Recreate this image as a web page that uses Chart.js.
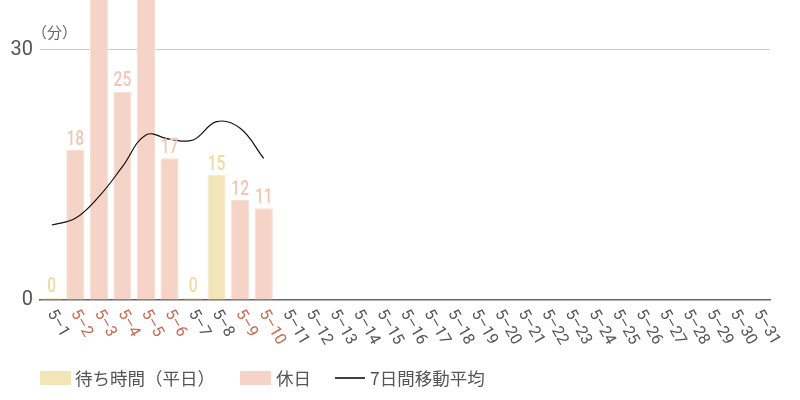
<!DOCTYPE html>
<html>
<head>
<meta charset="utf-8">
<script src="https://cdn.jsdelivr.net/npm/chart.js@4.4.1/dist/chart.umd.min.js"></script>
<style>
  html, body { margin: 0; padding: 0; background: #fff; }
  #wrap { width: 800px; height: 400px; }
</style>
</head>
<body>
<div id="wrap"><canvas id="waitChart" width="800" height="400"></canvas></div>
<script>
// 日付ラベル
const days = ['5-1','5-2','5-3','5-4','5-5','5-6','5-7','5-8','5-9','5-10',
  '5-11','5-12','5-13','5-14','5-15','5-16','5-17','5-18','5-19','5-20',
  '5-21','5-22','5-23','5-24','5-25','5-26','5-27','5-28','5-29','5-30','5-31'];

// 休日 (ラベルを赤で表示)
const holidays = ['5-2','5-3','5-4','5-5','5-6','5-9','5-10'];

// 待ち時間 (平日)
const weekdayWait = [0, null, null, null, null, null, 0, 15, null, null,
  null, null, null, null, null, null, null, null, null, null,
  null, null, null, null, null, null, null, null, null, null, null];

// 待ち時間 (休日)
const holidayWait = [null, 18, 37, 25, 38, 17, null, null, 12, 11,
  null, null, null, null, null, null, null, null, null, null,
  null, null, null, null, null, null, null, null, null, null, null];

// 7日間移動平均
const movingAvg = [9.0, 9.8, 12.4, 16.0, 19.8, 19.3, 19.2, 21.4, 20.6, 17.0,
  null, null, null, null, null, null, null, null, null, null,
  null, null, null, null, null, null, null, null, null, null, null];

const yTicks = [0, 30];

const COLOR_WEEKDAY = '#f2e6b9';
const COLOR_WEEKDAY_LABEL = '#eedc9f';
const COLOR_HOLIDAY = '#f5d3c6';
const COLOR_HOLIDAY_LABEL = '#f2c6b3';
const COLOR_TEXT = '#555';
const COLOR_RED = '#c8694e';

// --- バーの上の数値 ---
const valueLabels = {
  id: 'valueLabels',
  afterDatasetsDraw(chart) {
    const ctx = chart.ctx;
    const area = chart.chartArea;
    [0, 1].forEach(di => {
      const meta = chart.getDatasetMeta(di);
      const color = di === 0 ? COLOR_WEEKDAY_LABEL : COLOR_HOLIDAY_LABEL;
      meta.data.forEach((bar, i) => {
        const v = chart.data.datasets[di].data[i];
        if (v === null || v === undefined) return;
        const top = Math.min(bar.y, bar.base - 2);
        if (top - 20 < area.top) return;
        ctx.save();
        ctx.translate(bar.x, top - 2);
        ctx.scale(0.74, 1);
        ctx.font = '500 21px Roboto';
        ctx.fillStyle = color;
        ctx.textAlign = 'center';
        ctx.textBaseline = 'bottom';
        ctx.fillText(String(v), 0, 2);
        ctx.restore();
      });
    });
  }
};

// --- X軸ラベル、単位、凡例 ---
const extras = {
  id: 'extras',
  afterDraw(chart) {
    const ctx = chart.ctx;
    const x = chart.scales.x;
    const area = chart.chartArea;

    // 斜めの日付ラベル
    ctx.save();
    ctx.font = '16px Roboto';
    ctx.textAlign = 'left';
    ctx.textBaseline = 'middle';
    days.forEach((d, i) => {
      const px = x.getPixelForTick(i);
      ctx.save();
      ctx.translate(px - 1, area.bottom + 11);
      ctx.rotate(60 * Math.PI / 180);
      ctx.fillStyle = holidays.includes(d) ? COLOR_RED : COLOR_TEXT;
      ctx.fillText(d.replace('-', '–'), 0, 0);
      ctx.restore();
    });
    ctx.restore();

    // 単位
    ctx.save();
    ctx.font = '15px "Noto Sans CJK JP"';
    ctx.fillStyle = '#666';
    ctx.textAlign = 'left';
    ctx.textBaseline = 'middle';
    ctx.fillText('（分）', 32, 32);
    ctx.restore();

    // 凡例
    ctx.save();
    ctx.font = '17.5px "Noto Sans CJK JP"';
    ctx.textBaseline = 'middle';
    ctx.textAlign = 'left';
    const ly = 378;
    ctx.fillStyle = COLOR_WEEKDAY;
    ctx.fillRect(40, 371, 31, 14);
    ctx.fillStyle = COLOR_TEXT;
    ctx.fillText('待ち時間（平日）', 75, ly);
    ctx.fillStyle = COLOR_HOLIDAY;
    ctx.fillRect(240, 371, 31, 14);
    ctx.fillStyle = COLOR_TEXT;
    ctx.fillText('休日', 276, ly);
    ctx.strokeStyle = '#000';
    ctx.lineWidth = 1.5;
    ctx.beginPath();
    ctx.moveTo(335, ly);
    ctx.lineTo(365, ly);
    ctx.stroke();
    ctx.fillText('7日間移動平均', 370, ly);
    ctx.restore();
  }
};

const ctx = document.getElementById('waitChart').getContext('2d');
new Chart(ctx, {
  type: 'bar',
  data: {
    labels: days,
    datasets: [
      {
        label: '待ち時間（平日）',
        data: weekdayWait,
        backgroundColor: COLOR_WEEKDAY,
        borderColor: '#f6eccb',
        borderWidth: 1,
        minBarLength: 2,
        grouped: false,
        categoryPercentage: 1,
        barPercentage: 0.77,
        order: 2
      },
      {
        label: '休日',
        data: holidayWait,
        backgroundColor: COLOR_HOLIDAY,
        borderColor: '#f8ddd2',
        borderWidth: 1,
        minBarLength: 2,
        grouped: false,
        categoryPercentage: 1,
        barPercentage: 0.77,
        order: 2
      },
      {
        type: 'line',
        label: '7日間移動平均',
        data: movingAvg,
        borderColor: '#111',
        borderWidth: 1.2,
        pointRadius: 0,
        tension: 0.4,
        fill: false,
        order: 1
      }
    ]
  },
  options: {
    responsive: false,
    animation: false,
    layout: { padding: { top: 0, right: 30, left: 0, bottom: 0 } },
    plugins: {
      legend: { display: false },
      tooltip: { enabled: false }
    },
    scales: {
      x: {
        grid: { display: false },
        border: { color: '#666', width: 1.5 },
        ticks: { display: false },
        afterFit: (scale) => { scale.height = 100; scale.paddingLeft = 0; scale.paddingRight = 0; }
      },
      y: {
        min: 0,
        max: 36,
        afterBuildTicks: (scale) => { scale.ticks = yTicks.map(v => ({ value: v })); },
        grid: {
          drawTicks: false,
          color: (c) => c.tick && c.tick.value === 0 ? 'rgba(0,0,0,0)' : '#ccc',
          lineWidth: 1
        },
        border: { display: false },
        ticks: {
          padding: 7,
          color: COLOR_TEXT,
          font: { family: 'Roboto', size: 20 }
        },
        afterFit: (scale) => { scale.width = 40; scale.paddingTop = 0; scale.paddingBottom = 0; }
      }
    }
  },
  plugins: [valueLabels, extras]
});
</script>
</body>
</html>
